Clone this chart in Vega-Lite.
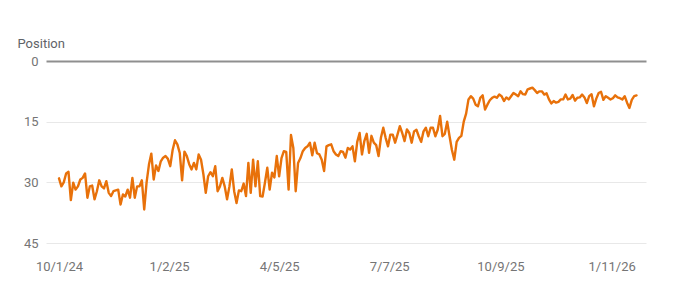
{
  "$schema": "https://vega.github.io/schema/vega-lite/v6.json",
  "width": 600,
  "height": 182,
  "autosize": {"type": "none"},
  "padding": {"left": 46, "top": 61, "right": 28, "bottom": 58},
  "background": "#ffffff",
  "config": {
    "view": {"stroke": null},
    "font": "Roboto"
  },
  "data": {
    "values": [
      {"date":"2024-10-01","pos":29.0},{"date":"2024-10-03","pos":31.0},{"date":"2024-10-05","pos":30.0},{"date":"2024-10-07","pos":27.8},{"date":"2024-10-09","pos":27.4},{"date":"2024-10-11","pos":34.4},{"date":"2024-10-13","pos":30.1},{"date":"2024-10-15","pos":31.8},{"date":"2024-10-17","pos":31.0},{"date":"2024-10-19","pos":29.3},{"date":"2024-10-21","pos":28.9},{"date":"2024-10-23","pos":27.8},{"date":"2024-10-25","pos":33.8},{"date":"2024-10-27","pos":31.0},{"date":"2024-10-29","pos":30.8},{"date":"2024-10-31","pos":34.2},
      {"date":"2024-11-02","pos":32.2},{"date":"2024-11-04","pos":29.5},{"date":"2024-11-06","pos":31.0},{"date":"2024-11-08","pos":31.5},{"date":"2024-11-10","pos":29.7},{"date":"2024-11-12","pos":32.6},{"date":"2024-11-14","pos":33.4},{"date":"2024-11-16","pos":32.2},{"date":"2024-11-18","pos":32.0},{"date":"2024-11-20","pos":31.8},{"date":"2024-11-22","pos":35.5},{"date":"2024-11-24","pos":33.0},{"date":"2024-11-26","pos":33.5},{"date":"2024-11-28","pos":31.8},{"date":"2024-11-30","pos":33.8},
      {"date":"2024-12-02","pos":28.9},{"date":"2024-12-04","pos":33.8},{"date":"2024-12-06","pos":31.0},{"date":"2024-12-08","pos":31.0},{"date":"2024-12-10","pos":29.5},{"date":"2024-12-12","pos":36.7},{"date":"2024-12-14","pos":30.0},{"date":"2024-12-16","pos":25.6},{"date":"2024-12-18","pos":22.9},{"date":"2024-12-20","pos":29.3},{"date":"2024-12-22","pos":25.8},{"date":"2024-12-24","pos":27.2},{"date":"2024-12-26","pos":24.8},{"date":"2024-12-28","pos":23.9},{"date":"2024-12-30","pos":23.5},
      {"date":"2025-01-01","pos":24.2},{"date":"2025-01-03","pos":26.0},{"date":"2025-01-05","pos":22.0},{"date":"2025-01-07","pos":19.6},{"date":"2025-01-09","pos":20.6},{"date":"2025-01-11","pos":22.7},{"date":"2025-01-13","pos":29.5},{"date":"2025-01-15","pos":22.4},{"date":"2025-01-17","pos":23.5},{"date":"2025-01-19","pos":25.5},{"date":"2025-01-21","pos":26.8},{"date":"2025-01-23","pos":25.2},{"date":"2025-01-25","pos":26.8},{"date":"2025-01-27","pos":23.1},{"date":"2025-01-29","pos":24.4},{"date":"2025-01-31","pos":28.0},
      {"date":"2025-02-02","pos":32.6},{"date":"2025-02-04","pos":28.5},{"date":"2025-02-06","pos":27.5},{"date":"2025-02-08","pos":28.5},{"date":"2025-02-10","pos":26.0},{"date":"2025-02-12","pos":32.2},{"date":"2025-02-14","pos":31.0},{"date":"2025-02-16","pos":28.9},{"date":"2025-02-18","pos":31.0},{"date":"2025-02-20","pos":34.2},{"date":"2025-02-22","pos":31.0},{"date":"2025-02-24","pos":26.8},{"date":"2025-02-26","pos":32.2},{"date":"2025-02-28","pos":35.1},
      {"date":"2025-03-02","pos":32.0},{"date":"2025-03-04","pos":32.2},{"date":"2025-03-06","pos":30.3},{"date":"2025-03-08","pos":33.4},{"date":"2025-03-10","pos":25.2},{"date":"2025-03-12","pos":32.6},{"date":"2025-03-14","pos":24.4},{"date":"2025-03-16","pos":31.0},{"date":"2025-03-18","pos":24.8},{"date":"2025-03-20","pos":33.4},{"date":"2025-03-22","pos":33.5},{"date":"2025-03-24","pos":30.1},{"date":"2025-03-26","pos":26.4},{"date":"2025-03-28","pos":31.8},{"date":"2025-03-30","pos":27.6},
      {"date":"2025-04-01","pos":28.8},{"date":"2025-04-03","pos":23.5},{"date":"2025-04-05","pos":28.5},{"date":"2025-04-07","pos":24.0},{"date":"2025-04-09","pos":22.3},{"date":"2025-04-11","pos":22.5},{"date":"2025-04-13","pos":31.8},{"date":"2025-04-15","pos":18.3},{"date":"2025-04-17","pos":21.5},{"date":"2025-04-19","pos":32.2},{"date":"2025-04-21","pos":25.2},{"date":"2025-04-23","pos":24.0},{"date":"2025-04-25","pos":22.3},{"date":"2025-04-27","pos":21.5},{"date":"2025-04-29","pos":21.1},
      {"date":"2025-05-01","pos":20.2},{"date":"2025-05-03","pos":23.3},{"date":"2025-05-05","pos":20.2},{"date":"2025-05-07","pos":22.8},{"date":"2025-05-09","pos":23.1},{"date":"2025-05-11","pos":24.4},{"date":"2025-05-13","pos":27.2},{"date":"2025-05-15","pos":21.1},{"date":"2025-05-17","pos":20.8},{"date":"2025-05-19","pos":20.6},{"date":"2025-05-21","pos":22.3},{"date":"2025-05-23","pos":23.1},{"date":"2025-05-25","pos":23.5},{"date":"2025-05-27","pos":22.3},{"date":"2025-05-29","pos":22.5},{"date":"2025-05-31","pos":23.9},
      {"date":"2025-06-02","pos":21.5},{"date":"2025-06-04","pos":21.9},{"date":"2025-06-06","pos":21.1},{"date":"2025-06-08","pos":24.8},{"date":"2025-06-10","pos":20.0},{"date":"2025-06-12","pos":17.8},{"date":"2025-06-14","pos":23.1},{"date":"2025-06-16","pos":19.8},{"date":"2025-06-18","pos":18.0},{"date":"2025-06-20","pos":22.7},{"date":"2025-06-22","pos":18.5},{"date":"2025-06-24","pos":20.2},{"date":"2025-06-26","pos":20.8},{"date":"2025-06-28","pos":23.5},{"date":"2025-06-30","pos":19.0},
      {"date":"2025-07-02","pos":16.5},{"date":"2025-07-04","pos":19.0},{"date":"2025-07-06","pos":21.1},{"date":"2025-07-08","pos":18.2},{"date":"2025-07-10","pos":18.2},{"date":"2025-07-12","pos":20.2},{"date":"2025-07-14","pos":18.2},{"date":"2025-07-16","pos":16.1},{"date":"2025-07-18","pos":17.8},{"date":"2025-07-20","pos":19.8},{"date":"2025-07-22","pos":16.9},{"date":"2025-07-24","pos":17.8},{"date":"2025-07-26","pos":20.2},{"date":"2025-07-28","pos":17.4},{"date":"2025-07-30","pos":17.0},
      {"date":"2025-08-01","pos":18.6},{"date":"2025-08-03","pos":20.0},{"date":"2025-08-05","pos":17.4},{"date":"2025-08-07","pos":16.5},{"date":"2025-08-09","pos":18.6},{"date":"2025-08-11","pos":16.5},{"date":"2025-08-13","pos":16.5},{"date":"2025-08-15","pos":18.6},{"date":"2025-08-17","pos":17.0},{"date":"2025-08-19","pos":13.6},{"date":"2025-08-21","pos":18.6},{"date":"2025-08-23","pos":18.0},{"date":"2025-08-25","pos":15.0},{"date":"2025-08-27","pos":18.6},{"date":"2025-08-29","pos":22.0},{"date":"2025-08-31","pos":24.4},
      {"date":"2025-09-02","pos":20.0},{"date":"2025-09-04","pos":19.0},{"date":"2025-09-06","pos":18.5},{"date":"2025-09-08","pos":15.0},{"date":"2025-09-10","pos":13.0},{"date":"2025-09-12","pos":9.5},{"date":"2025-09-14","pos":8.7},{"date":"2025-09-16","pos":9.3},{"date":"2025-09-18","pos":10.8},{"date":"2025-09-20","pos":11.2},{"date":"2025-09-22","pos":9.1},{"date":"2025-09-24","pos":8.5},{"date":"2025-09-26","pos":12.0},{"date":"2025-09-28","pos":10.8},{"date":"2025-09-30","pos":9.7},
      {"date":"2025-10-02","pos":9.1},{"date":"2025-10-04","pos":8.8},{"date":"2025-10-06","pos":9.1},{"date":"2025-10-08","pos":8.3},{"date":"2025-10-10","pos":8.7},{"date":"2025-10-12","pos":9.9},{"date":"2025-10-14","pos":9.0},{"date":"2025-10-16","pos":9.5},{"date":"2025-10-18","pos":8.7},{"date":"2025-10-20","pos":7.9},{"date":"2025-10-22","pos":8.3},{"date":"2025-10-24","pos":8.7},{"date":"2025-10-26","pos":7.5},{"date":"2025-10-28","pos":8.2},{"date":"2025-10-30","pos":8.3},
      {"date":"2025-11-01","pos":7.0},{"date":"2025-11-03","pos":6.8},{"date":"2025-11-05","pos":6.6},{"date":"2025-11-07","pos":7.2},{"date":"2025-11-09","pos":7.9},{"date":"2025-11-11","pos":7.5},{"date":"2025-11-13","pos":7.5},{"date":"2025-11-15","pos":8.3},{"date":"2025-11-17","pos":8.0},{"date":"2025-11-19","pos":9.5},{"date":"2025-11-21","pos":10.5},{"date":"2025-11-23","pos":9.9},{"date":"2025-11-25","pos":10.3},{"date":"2025-11-27","pos":10.1},{"date":"2025-11-29","pos":9.5},
      {"date":"2025-12-01","pos":9.5},{"date":"2025-12-03","pos":8.3},{"date":"2025-12-05","pos":9.5},{"date":"2025-12-07","pos":9.3},{"date":"2025-12-09","pos":8.4},{"date":"2025-12-11","pos":9.8},{"date":"2025-12-13","pos":9.1},{"date":"2025-12-15","pos":9.0},{"date":"2025-12-17","pos":8.3},{"date":"2025-12-19","pos":9.0},{"date":"2025-12-21","pos":10.4},{"date":"2025-12-23","pos":8.7},{"date":"2025-12-25","pos":8.2},{"date":"2025-12-27","pos":11.2},{"date":"2025-12-29","pos":9.3},{"date":"2025-12-31","pos":7.9},
      {"date":"2026-01-02","pos":7.6},{"date":"2026-01-04","pos":9.6},{"date":"2026-01-06","pos":8.7},{"date":"2026-01-08","pos":9.1},{"date":"2026-01-10","pos":9.5},{"date":"2026-01-12","pos":9.2},{"date":"2026-01-14","pos":8.5},{"date":"2026-01-16","pos":9.0},{"date":"2026-01-18","pos":9.2},{"date":"2026-01-20","pos":9.5},{"date":"2026-01-22","pos":8.7},{"date":"2026-01-24","pos":10.3},{"date":"2026-01-26","pos":11.6},{"date":"2026-01-28","pos":9.6},{"date":"2026-01-30","pos":8.7},{"date":"2026-02-01","pos":8.5}
    ]
  },
  "mark": {"type": "line", "color": "#E8710A", "strokeWidth": 2.4, "strokeJoin": "round", "strokeCap": "round"},
  "encoding": {
    "x": {
      "field": "date",
      "type": "temporal",
      "scale": {
        "type": "utc",
        "domain": [
          {"year": 2024, "month": 9, "date": 20, "utc": true},
          {"year": 2026, "month": 2, "date": 9, "utc": true}
        ]
      },
      "axis": {
        "title": null,
        "format": "%-m/%-d/%y",
        "values": [
          {"year": 2024, "month": 10, "date": 1, "utc": true},
          {"year": 2025, "month": 1, "date": 2, "utc": true},
          {"year": 2025, "month": 4, "date": 5, "utc": true},
          {"year": 2025, "month": 7, "date": 7, "utc": true},
          {"year": 2025, "month": 10, "date": 9, "utc": true},
          {"year": 2026, "month": 1, "date": 11, "utc": true}
        ],
        "domain": false,
        "ticks": false,
        "grid": false,
        "labelPadding": 17,
        "labelFontSize": 13,
        "labelColor": "#757575",
        "labelFont": "Roboto",
        "labelOverlap": false,
        "labelFlush": false
      }
    },
    "y": {
      "field": "pos",
      "type": "quantitative",
      "scale": {"domain": [0, 45], "reverse": true, "nice": false, "zero": false},
      "axis": {
        "title": "Position",
        "titleAngle": 0,
        "titleAlign": "left",
        "titleBaseline": "middle",
        "titleX": -29,
        "titleY": -18,
        "titleFontSize": 13,
        "titleFontWeight": "normal",
        "titleColor": "#5f6368",
        "titleFont": "Roboto",
        "values": [0, 15, 30, 45],
        "domain": false,
        "ticks": false,
        "labelPadding": 8,
        "labelFontSize": 13,
        "labelColor": "#757575",
        "labelFont": "Roboto",
        "grid": true,
        "gridColor": {"condition": {"test": "datum.value === 0", "value": "#8f8f8f"}, "value": "#e8e8e8"},
        "gridWidth": {"condition": {"test": "datum.value === 0", "value": 2}, "value": 1}
      }
    }
  }
}
